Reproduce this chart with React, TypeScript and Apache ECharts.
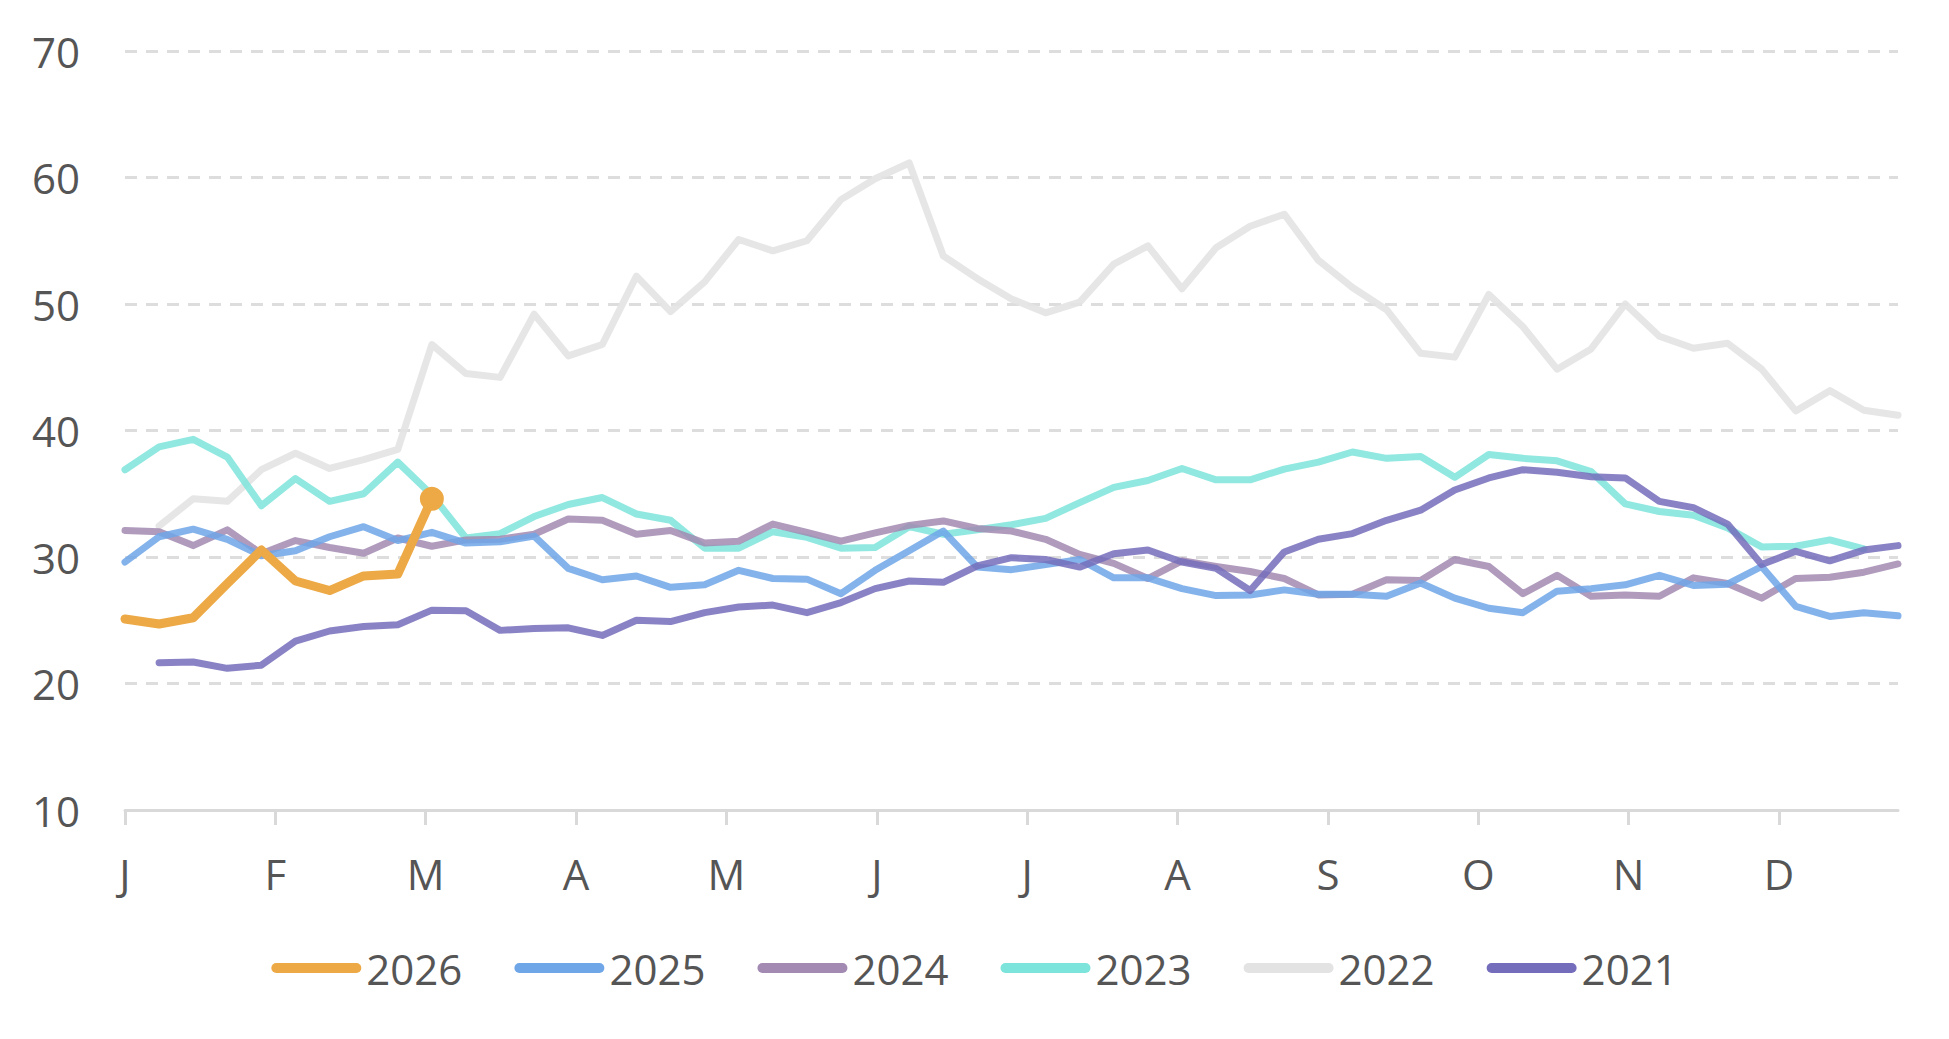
import React, { useEffect, useRef } from "react";
import * as echarts from "echarts";

const monthLabels = ["J", "F", "M", "A", "M", "J", "J", "A", "S", "O", "N", "D"];
const monthStep = 4.41; // weeks per month tick
const yTicks = [10, 20, 30, 40, 50, 60, 70];

const s2026 = [25.1, 24.7, 25.2, 27.9, 30.55, 28.1, 27.35, 28.5, 28.65, 34.6];

const s2025 = [29.6, 31.6, 32.2, 31.4, 30.1, 30.5, 31.6, 32.4, 31.3, 31.95, 31.1, 31.2, 31.65, 29.1, 28.2, 28.5, 27.6, 27.8, 28.95, 28.3, 28.25, 27.1, 28.95, 30.5, 32.05, 29.2, 29.0, 29.4, 29.8, 28.35, 28.35, 27.5, 26.95, 27.0, 27.4, 27.05, 27.05, 26.9, 27.95, 26.75, 25.95, 25.6, 27.3, 27.5, 27.8, 28.55, 27.75, 27.85, 29.25, 26.1, 25.3, 25.6, 25.35];

const s2024 = [32.1, 32.0, 30.9, 32.15, 30.25, 31.3, 30.75, 30.3, 31.5, 30.85, 31.35, 31.4, 31.8, 33.0, 32.9, 31.8, 32.1, 31.1, 31.25, 32.6, 31.95, 31.25, 31.9, 32.5, 32.85, 32.25, 32.05, 31.4, 30.2, 29.5, 28.3, 29.7, 29.25, 28.85, 28.3, 27.0, 27.05, 28.2, 28.15, 29.8, 29.25, 27.1, 28.55, 26.9, 27.0, 26.9, 28.35, 27.9, 26.75, 28.3, 28.4, 28.8, 29.45];

const s2023 = [36.9, 38.7, 39.3, 37.9, 34.05, 36.2, 34.4, 35.0, 37.5, 34.9, 31.5, 31.85, 33.2, 34.15, 34.7, 33.4, 32.9, 30.7, 30.7, 32.0, 31.55, 30.7, 30.75, 32.4, 31.8, 32.15, 32.55, 33.05, 34.3, 35.5, 36.05, 37.0, 36.1, 36.1, 36.95, 37.5, 38.3, 37.8, 37.95, 36.3, 38.1, 37.8, 37.6, 36.75, 34.2, 33.6, 33.3, 32.3, 30.8, 30.85, 31.35, 30.65, null];

const s2022 = [null, 32.45, 34.6, 34.4, 36.9, 38.2, 37.0, 37.7, 38.5, 46.8, 44.5, 44.2, 49.2, 45.9, 46.8, 52.2, 49.4, 51.75, 55.1, 54.2, 55.0, 58.25, 59.9, 61.15, 53.8, 52.0, 50.4, 49.3, 50.15, 53.15, 54.6, 51.2, 54.45, 56.15, 57.1, 53.45, 51.3, 49.55, 46.1, 45.8, 50.75, 48.2, 44.85, 46.45, 50.0, 47.45, 46.5, 46.9, 44.85, 41.55, 43.15, 41.6, 41.2];

const s2021 = [null, 21.65, 21.7, 21.2, 21.45, 23.35, 24.15, 24.5, 24.65, 25.8, 25.75, 24.2, 24.35, 24.4, 23.8, 25.0, 24.9, 25.6, 26.05, 26.2, 25.6, 26.4, 27.5, 28.1, 28.0, 29.3, 29.95, 29.8, 29.2, 30.25, 30.55, 29.6, 29.1, 27.35, 30.4, 31.4, 31.85, 32.9, 33.7, 35.3, 36.25, 36.9, 36.7, 36.35, 36.25, 34.4, 33.9, 32.6, 29.4, 30.45, 29.7, 30.55, 30.9];

const legendOrder = ["2026", "2025", "2024", "2023", "2022", "2021"];

const FONT = "'Open Sans', 'Noto Sans', sans-serif";
const TEXT_COLOR = "#555555";

function toPairs(arr: (number | null)[]) {
  const out: [number, number][] = [];
  arr.forEach((v, i) => {
    if (v !== null && v !== undefined) out.push([i, v]);
  });
  return out;
}

export default function App() {
  const ref = useRef<HTMLDivElement>(null);

  useEffect(() => {
    document.body.style.margin = "0";
    if (!ref.current) return;
    const chart = echarts.init(ref.current, undefined, { renderer: "svg" });

    const monthValues = monthLabels.map((_, i) => +(i * monthStep).toFixed(4));

    const lineSeries = (
      name: string,
      arr: (number | null)[],
      color: string,
      width: number,
      z: number,
      opacity: number
    ) => ({
      name,
      type: "line",
      data: toPairs(arr),
      z,
      symbol: "none",
      lineStyle: { color, width, cap: "round", join: "round", opacity },
      itemStyle: { color },
      emphasis: { disabled: true },
    });

    const last2026 = toPairs(s2026).length - 1;

    const option: any = {
      animation: false,
      backgroundColor: "#ffffff",
      grid: { left: 125, right: 51, top: 51, bottom: 229, containLabel: false },
      legend: {
        data: legendOrder,
        top: 938,
        left: "center",
        itemWidth: 90,
        itemHeight: 10,
        itemGap: 52,
        icon: "path://M5,0 H85 A5,5 0 0 1 85,10 H5 A5,5 0 0 1 5,0 Z",
        textStyle: { fontFamily: FONT, fontSize: 42, color: TEXT_COLOR, lineHeight: 50 },
      },
      xAxis: {
        type: "value",
        min: 0,
        max: 52,
        splitLine: { show: false },
        axisLine: { show: true, lineStyle: { color: "#D9D9D9", width: 3 } },
        axisTick: {
          show: true,
          customValues: monthValues,
          length: 15,
          lineStyle: { color: "#D9D9D9", width: 3 },
        },
        axisLabel: {
          customValues: monthValues,
          margin: 42,
          fontFamily: FONT,
          fontSize: 42,
          color: TEXT_COLOR,
          formatter: (v: number) => {
            const idx = Math.round(v / monthStep);
            return monthLabels[idx] ?? "";
          },
        },
      },
      yAxis: {
        type: "value",
        min: 10,
        max: 70,
        interval: 10,
        axisLine: { show: false },
        axisTick: { show: false },
        axisLabel: {
          margin: 45,
          fontFamily: FONT,
          fontSize: 42,
          color: TEXT_COLOR,
          formatter: (v: number) => (yTicks.includes(v) ? String(v) : ""),
        },
        splitLine: {
          show: true,
          lineStyle: { color: "#DDDDDD", width: 3, type: [12, 9] },
        },
      },
      series: [
        lineSeries("2022", s2022, "#E3E3E3", 7, 2, 0.9),
        lineSeries("2023", s2023, "#7CE4DB", 7, 3, 0.85),
        lineSeries("2024", s2024, "#A28AB2", 7, 4, 0.85),
        lineSeries("2025", s2025, "#6EA6E7", 7, 5, 0.85),
        lineSeries("2021", s2021, "#746DBB", 7, 6, 0.85),
        {
          name: "2026",
          type: "line",
          data: toPairs(s2026),
          z: 10,
          symbol: "circle",
          showSymbol: true,
          symbolSize: (_v: any, p: any) => (p.dataIndex === last2026 ? 24 : 0),
          lineStyle: { color: "#EDA945", width: 9, cap: "round", join: "round" },
          itemStyle: { color: "#EDA945" },
          emphasis: { disabled: true },
        },
      ],
    };

    chart.setOption(option);
    return () => chart.dispose();
  }, []);

  return (
    <div
      ref={ref}
      style={{ position: "fixed", left: 0, top: 0, width: 1949, height: 1039 }}
    />
  );
}
